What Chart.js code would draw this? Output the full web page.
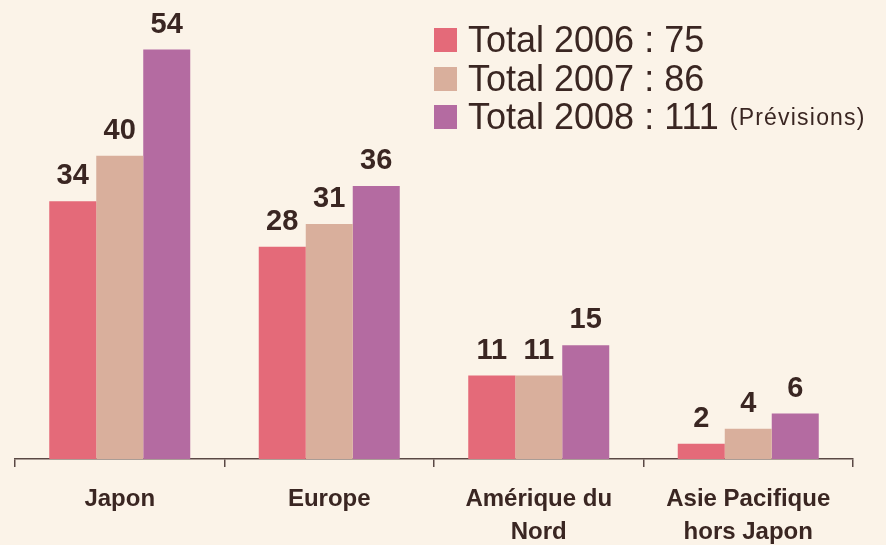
<!DOCTYPE html>
<html>
<head>
<meta charset="utf-8">
<script src="https://cdn.jsdelivr.net/npm/chart.js@4.4.1/dist/chart.umd.min.js"></script>
<style>
    html, body { margin: 0; padding: 0; background: #FBF3E8; }
    #wrap { position: relative; width: 886px; height: 545px; }
    #legend { position: absolute; left: 434px; top: 21px; font-family: 'Liberation Sans', Arial, sans-serif; color: #3A2622; }
    .row { display: flex; align-items: center; height: 38.5px; font-size: 36px; line-height: 38.5px; white-space: nowrap; }
    .box { width: 23px; height: 24px; margin-right: 11px; flex: none; }
    .note { font-size: 23px; letter-spacing: 1.2px; margin-left: 11px; }
</style>
</head>
<body>
<div id="wrap">
    <canvas id="chart"></canvas>
    <div id="legend"></div>
</div>
<script>
// data
const categories = [['Japon'], ['Europe'], ['Amérique du', 'Nord'], ['Asie Pacifique', 'hors Japon']];
const years = ['2006', '2007', '2008'];
const totals = [75, 86, 111];
const notes = ['', '', '(Prévisions)'];
const values2006 = [34, 28, 11, 2];
const values2007 = [40, 31, 11, 4];
const values2008 = [54, 36, 15, 6];
const colors = ['#E46A79', '#D9AF9C', '#B46BA1'];

const textColor = '#3A2622';
const font = "'Liberation Sans', Arial, sans-serif";

const series = [values2006, values2007, values2008];
const datasets = series.map((vals, i) => ({
    label: 'Total ' + years[i] + ' : ' + totals[i],
    data: vals,
    backgroundColor: colors[i],
    borderWidth: 0,
    categoryPercentage: 0.673,
    barPercentage: 1
}));

// value labels above the bars
const valueLabels = {
    id: 'valueLabels',
    afterDatasetsDraw(chart) {
        const ctx = chart.ctx;
        ctx.save();
        ctx.font = 'bold 29px ' + font;
        ctx.fillStyle = textColor;
        ctx.textAlign = 'center';
        ctx.textBaseline = 'alphabetic';
        chart.data.datasets.forEach((ds, i) => {
            chart.getDatasetMeta(i).data.forEach((bar, j) => {
                ctx.fillText(ds.data[j], bar.x, bar.y - 17);
            });
        });
        ctx.restore();
    }
};

const chart = new Chart(document.getElementById('chart'), {
    type: 'bar',
    data: { labels: categories, datasets: datasets },
    options: {
        responsive: true,
        maintainAspectRatio: false,
        animation: false,
        layout: { padding: { left: 15, right: 33, top: 4, bottom: 0 } },
        plugins: {
            legend: { display: false },
            tooltip: { enabled: false }
        },
        scales: {
            x: {
                afterFit: (s) => { s.height = 86; },
                border: { display: true, color: '#5A4844', width: 1.5 },
                grid: {
                    offset: true,
                    drawOnChartArea: false,
                    drawTicks: true,
                    tickLength: 8,
                    color: '#5A4844',
                    lineWidth: 1.5
                },
                ticks: {
                    color: textColor,
                    padding: 16,
                    maxRotation: 0,
                    autoSkip: false,
                    font: { family: font, size: 24, weight: 'bold', lineHeight: 1.375 }
                }
            },
            y: {
                display: false,
                min: 0,
                max: 60
            }
        }
    },
    plugins: [valueLabels]
});

// legend as html text
const legend = document.getElementById('legend');
chart.data.datasets.forEach((ds, i) => {
    const row = document.createElement('div');
    row.className = 'row';
    row.innerHTML = '<span class="box" style="background:' + ds.backgroundColor + '"></span>' +
        '<span>' + ds.label + '</span>' +
        (notes[i] ? '<span class="note">' + notes[i] + '</span>' : '');
    legend.appendChild(row);
});
</script>
</body>
</html>
